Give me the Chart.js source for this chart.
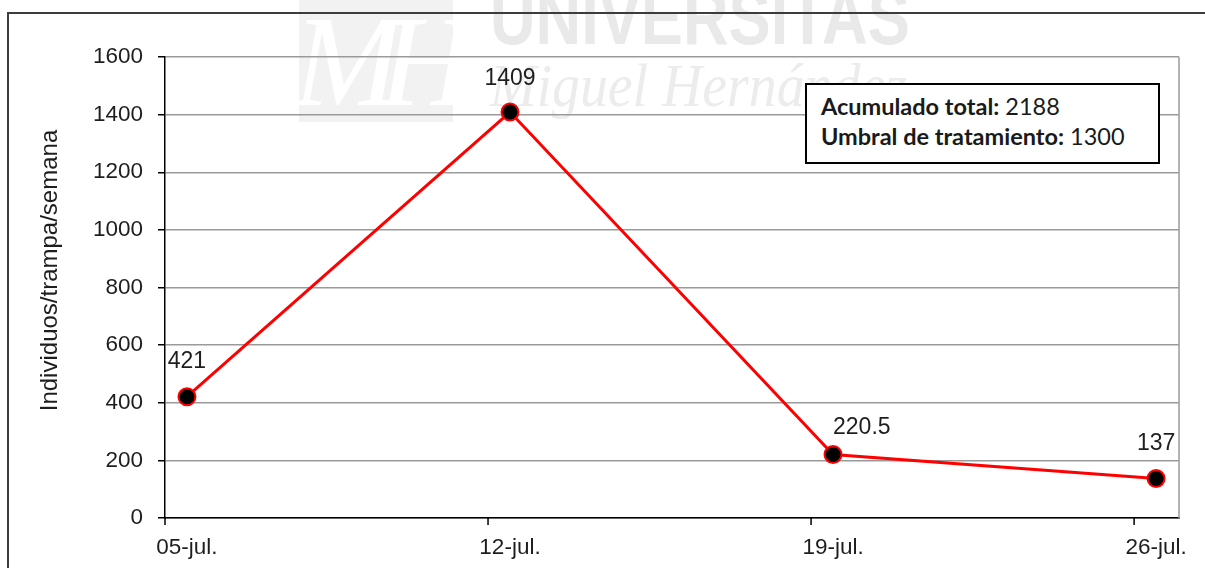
<!DOCTYPE html>
<html>
<head>
<meta charset="utf-8">
<script src="https://cdn.jsdelivr.net/npm/chart.js@4/dist/chart.umd.min.js"></script>
<style>
  html, body { margin: 0; padding: 0; background: #ffffff; }
  #wrap { position: relative; width: 1205px; height: 568px; overflow: hidden; background: #fff; }
  #c { position: absolute; left: 0; top: 0; }
  .wm { position: absolute; color: #e9e9e9; white-space: nowrap; line-height: 1; }
  #wm1 { left: 490px; top: -27px; font: bold 77px "Liberation Sans", Arial, sans-serif; transform: scaleX(0.82); transform-origin: left top; }
  #wm2 { left: 490px; top: 50px; font: italic 62px "Liberation Serif", "Times New Roman", serif; transform: scaleX(0.9); transform-origin: left top; color: #ececec; }
  #wm3 { left: 299px; top: 0px; width: 154px; height: 122px; background: #f2f2f2; overflow: visible;
         font: italic 130px "Liberation Serif", serif; color: #ffffff; letter-spacing: -22px; line-height: 122px; text-indent: -6px; }
  #frame { position: absolute; left: 7px; top: 12px; width: 1400px; height: 800px; border-top: 2px solid #3c3c3c; border-left: 2px solid #3c3c3c; }
  #note { position: absolute; left: 805px; top: 83px; width: 355px; height: 81px; box-sizing: border-box;
          border: 2px solid #000; background: #fff; padding: 6px 0 0 14px;
          font: 23.5px Lato, "Open Sans", sans-serif; line-height: 30px; color: #1a1a1a; white-space: nowrap; }
  #note b { font-weight: bold; }
</style>
</head>
<body>
<div id="wrap">
  <div class="wm" id="wm3">MH</div>
  <div class="wm" id="wm1">UNIVERSITAS</div>
  <div class="wm" id="wm2">Miguel Hernández</div>
  <div id="frame"></div>
  <canvas id="c" width="1205" height="568"></canvas>
  <div id="note"></div>
</div>
<script>
// ---- data ----
const categories = ['05-jul.', '12-jul.', '19-jul.', '26-jul.'];
const values = [421, 1409, 220.5, 137];
const yMin = 0, yMax = 1600, yStep = 200;
const yTitle = 'Individuos/trampa/semana';
const noteLabels = ['Acumulado total:', 'Umbral de tratamiento:'];
const noteValues = [2188, 1300];

// ---- annotation box ----
document.getElementById('note').innerHTML =
  noteLabels.map((l, i) => '<b>' + l + '</b> ' + noteValues[i]).join('<br>');

const X_MIN = -0.068, X_MAX = 3.071;
const TEXT = '#1e1e1e';
const AXIS_FONT = { family: '"Liberation Sans", Arial, sans-serif', size: 22.5 };

const framePlugin = {
  id: 'frame',
  beforeDatasetsDraw(chart) {
    const { ctx, chartArea: a, scales } = chart;
    ctx.save();
    ctx.strokeStyle = '#9a9a9a';
    ctx.lineWidth = 1.5;
    ctx.beginPath();
    ctx.moveTo(a.right, a.top);
    ctx.lineTo(a.right, a.bottom);
    ctx.stroke();
    ctx.strokeStyle = '#000';
    ctx.lineWidth = 1.5;
    categories.forEach((_, i) => {
      const px = scales.x.getPixelForValue(i + X_MIN);
      ctx.beginPath();
      ctx.moveTo(px, a.bottom);
      ctx.lineTo(px, a.bottom + 7);
      ctx.stroke();
    });
    // y-axis title (slightly above the axis centre, as in the original)
    ctx.save();
    ctx.fillStyle = TEXT;
    ctx.font = '24px "Liberation Sans", Arial, sans-serif';
    ctx.textAlign = 'center';
    ctx.textBaseline = 'middle';
    ctx.translate(50, (a.top + a.bottom) / 2 - 17);
    ctx.rotate(-Math.PI / 2);
    ctx.fillText(yTitle, 0, 0);
    ctx.restore();
    ctx.restore();
  }
};

const labelPlugin = {
  id: 'valueLabels',
  afterDatasetsDraw(chart, args, opts) {
    const { ctx } = chart;
    const meta = chart.getDatasetMeta(0);
    ctx.save();
    ctx.fillStyle = TEXT;
    ctx.font = '23px "Liberation Sans", Arial, sans-serif';
    ctx.textBaseline = 'middle';
    meta.data.forEach((pt, i) => {
      const o = opts.overrides[i] || {};
      ctx.textAlign = o.align || 'center';
      ctx.fillText(String(values[i]), pt.x, pt.y - (o.raise || opts.raise));
    });
    ctx.restore();
  }
};

new Chart(document.getElementById('c'), {
  type: 'line',
  data: {
    datasets: [{
      data: values.map((v, i) => ({ x: i, y: v })),
      borderColor: '#ff0000',
      borderWidth: 3,
      pointRadius: 8.5,
      pointBorderWidth: 2,
      pointBackgroundColor: '#000000',
      pointBorderColor: '#ff0000',
      tension: 0,
      fill: false
    }]
  },
  options: {
    responsive: false,
    animation: false,
    devicePixelRatio: 1,
    layout: { padding: { left: 0, top: 57, right: 26, bottom: 0 } },
    plugins: {
      legend: { display: false },
      tooltip: { enabled: false },
      valueLabels: { raise: 35, overrides: { 1: { raise: 33 }, 2: { align: 'left', raise: 27 } } }
    },
    scales: {
      x: {
        type: 'linear',
        min: X_MIN,
        max: X_MAX,
        afterBuildTicks: s => { s.ticks = categories.map((_, i) => ({ value: i })); },
        afterFit: s => { s.height = 50; },
        ticks: {
          callback: v => categories[v],
          font: AXIS_FONT,
          color: TEXT,
          padding: 8,
          maxRotation: 0,
          autoSkip: false
        },
        grid: { display: false },
        border: { display: true, color: '#000', width: 1.5 }
      },
      y: {
        min: yMin,
        max: yMax,
        afterFit: s => { s.width = 165; },
        ticks: { stepSize: yStep, font: AXIS_FONT, color: TEXT, padding: 15, callback: v => String(v) },
        grid: { color: '#9a9a9a', lineWidth: 1.5, tickColor: '#000', tickLength: 7, drawTicks: true },
        border: { display: true, color: '#000', width: 1.5 },
        title: { display: false }
      }
    }
  },
  plugins: [framePlugin, labelPlugin]
});
</script>
</body>
</html>
